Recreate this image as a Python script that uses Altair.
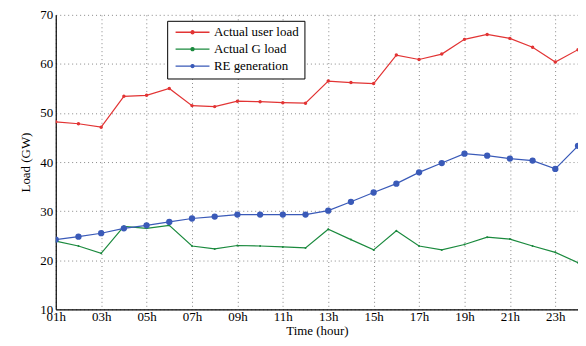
import altair as alt
import pandas as pd

hours = list(range(1, 25))
user_load = [48.2, 47.8, 47.1, 53.4, 53.6, 55.0, 51.5, 51.3, 52.4, 52.3, 52.1, 52.0,
             56.5, 56.2, 56.0, 61.8, 60.9, 62.0, 65.0, 66.0, 65.2, 63.4, 60.4, 62.9]
g_load = [23.9, 22.9, 21.4, 26.9, 26.5, 27.1, 22.9, 22.3, 23.0, 22.9, 22.7, 22.5,
          26.3, 24.2, 22.1, 26.0, 22.9, 22.1, 23.2, 24.7, 24.3, 22.9, 21.6, 19.5]
re_gen = [24.2, 24.8, 25.5, 26.5, 27.1, 27.8, 28.5, 28.9, 29.3, 29.3, 29.3, 29.3,
          30.1, 31.9, 33.8, 35.6, 37.9, 39.8, 41.7, 41.3, 40.7, 40.3, 38.6, 43.3]
series_names = ["Actual user load", "Actual G load", "RE generation"]
series_colors = ["#e23434", "#1b8a3e", "#3a5ab8"]
point_sizes = [12, 4, 40]
x_tick_values = [1, 3, 5, 7, 9, 11, 13, 15, 17, 19, 21, 23]
y_tick_values = [10, 20, 30, 40, 50, 60, 70]

rows = []
for name, vals, ps in zip(series_names, [user_load, g_load, re_gen], point_sizes):
    for h, v in zip(hours, vals):
        rows.append({"hour": h, "load": v, "series": name, "psize": ps})
df = pd.DataFrame(rows)

FONT = "Times New Roman, Liberation Serif, serif"

x = alt.X("hour:Q", scale=alt.Scale(domain=[1, 24], nice=False, zero=False),
          axis=alt.Axis(values=x_tick_values, title="Time (hour)", labelFlush=False,
                        labelExpr="(datum.value < 10 ? '0' : '') + datum.value + 'h'"))
y = alt.Y("load:Q", scale=alt.Scale(domain=[10, 70], nice=False, zero=False),
          axis=alt.Axis(values=y_tick_values, title="Load (GW)", labelFlush=False))

legend_path = "M-3.1,0L3.1,0M0.28,0A0.28,0.28 0 1,1 -0.28,0A0.28,0.28 0 1,1 0.28,0Z"

color = alt.Color("series:N",
                  scale=alt.Scale(domain=series_names, range=series_colors),
                  legend=alt.Legend(orient="none", legendX=112, legendY=6, title=None,
                                    symbolType=legend_path, symbolSize=121,
                                    symbolStrokeWidth=1.3, symbolOffset=14,
                                    labelOffset=15, strokeColor="black",
                                    fillColor="white", padding=5, rowPadding=3,
                                    labelFont=FONT, labelFontSize=13,
                                    labelColor="black", cornerRadius=0))

lines = alt.Chart(df).mark_line(strokeWidth=1.2, clip=True).encode(
    x=x, y=y, color=color, order="hour:Q")

points = alt.Chart(df).mark_point(filled=True, opacity=1, clip=True).encode(
    x=x, y=y,
    color=alt.Color("series:N", scale=alt.Scale(domain=series_names, range=series_colors), legend=None),
    size=alt.Size("psize:Q", scale=None, legend=None))

chart = alt.layer(lines, points).properties(
    width=525, height=296,
    padding={"left": 12, "top": 0, "right": 0, "bottom": 0},
    background="white"
).configure_view(stroke=None).configure_axis(
    labelFont=FONT, titleFont=FONT, labelFontSize=13, titleFontSize=13,
    labelColor="black", titleColor="black", titleFontWeight="normal",
    domainColor="black", domainWidth=1.2, ticks=False,
    grid=True, gridColor="#888", gridDash=[1, 3], gridWidth=1,
).configure_axisX(labelPadding=1, titlePadding=1).configure_axisY(
    labelPadding=3, titlePadding=7)

chart.save("out.html", embed_options={"renderer": "svg", "actions": False})
